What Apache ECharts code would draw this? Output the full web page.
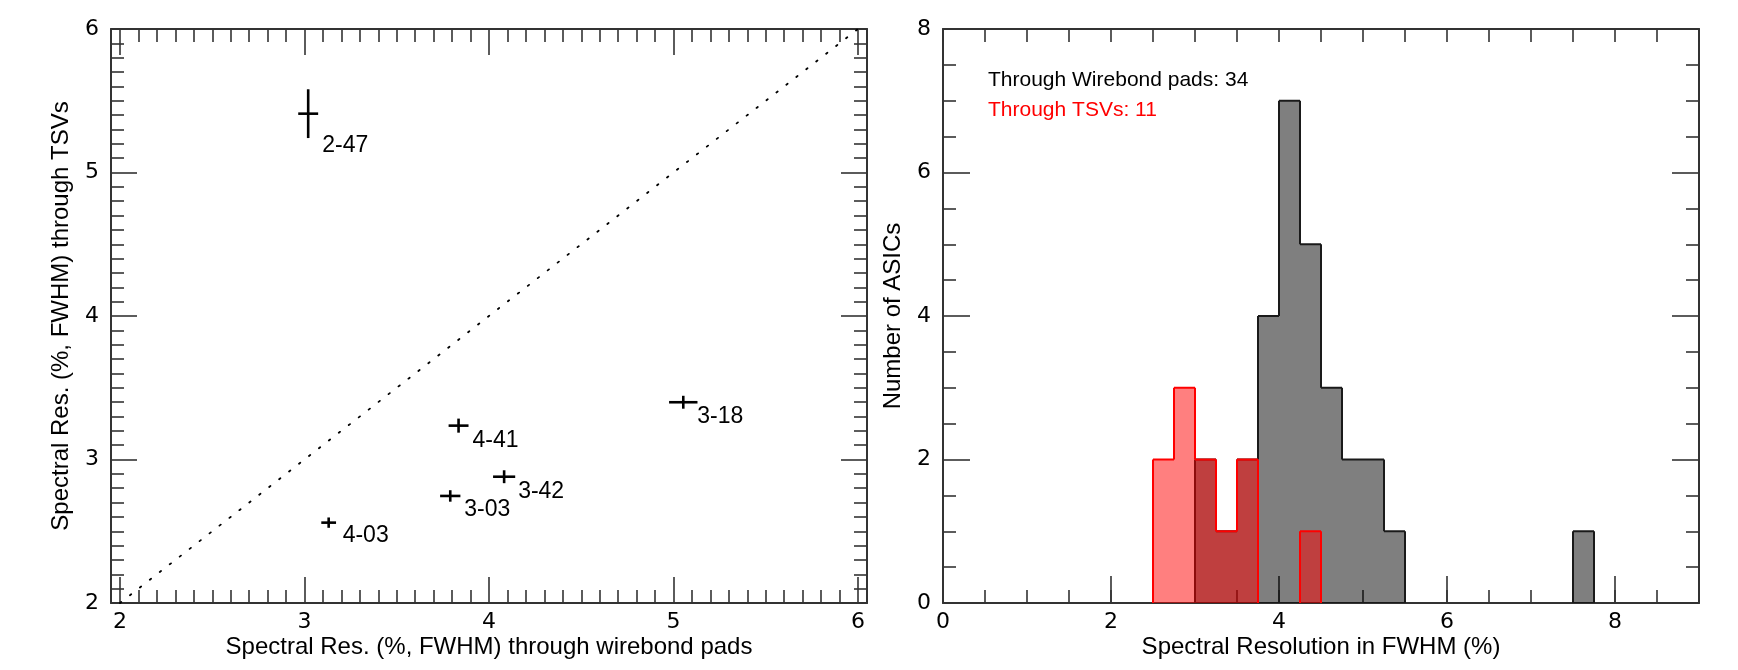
<!DOCTYPE html>
<html><head><meta charset="utf-8">
<script src="https://cdn.jsdelivr.net/npm/echarts@6/dist/echarts.min.js"></script>
<style>html,body{margin:0;padding:0;background:#fff}#c{width:1738px;height:670px}</style>
</head><body><div id="c"></div>
<script>
// ---- Left panel: per-ASIC spectral resolution ----
const asicLabels   = ['2-47', '4-41', '3-42', '3-03', '4-03', '3-18'];
const wirebondRes  = [3.02, 3.835, 4.082, 3.79, 3.131, 5.053];
const wirebondErr  = [0.054, 0.054, 0.06, 0.055, 0.04, 0.077];
const tsvRes       = [5.41, 3.236, 2.88, 2.746, 2.56, 3.399];
const tsvErr       = [0.17, 0.049, 0.045, 0.04, 0.036, 0.045];
const diagonalEnds = [2, 6];

// ---- Right panel: histograms ----
const binWidth     = 0.25;
const wireBinStart = [3.0, 3.25, 3.5, 3.75, 4.0, 4.25, 4.5, 4.75, 5.0, 5.25, 7.5];
const wireCounts   = [2, 1, 2, 4, 7, 5, 3, 2, 2, 1, 1];
const tsvBinStart  = [2.5, 2.75, 3.0, 3.25, 3.5, 4.25];
const tsvCounts    = [2, 3, 2, 1, 2, 1];
const legendWire   = 'Through Wirebond pads: 34';
const legendTsv    = 'Through TSVs: 11';

const FONT = 'Liberation Sans, Arial, Helvetica, sans-serif';
const TICKFONT = 'DejaVu Sans, Liberation Sans, sans-serif';
const AX = '#333';
const LBL = 22;

function histData(starts, counts) {
  const find = v => { for (let i = 0; i < starts.length; i++) if (Math.abs(starts[i] - v) < 1e-6) return counts[i]; return 0; };
  return starts.map((s, i) => [s, counts[i], find(s - binWidth), find(s + binWidth)]);
}
function histRender(fill, stroke) {
  return function (params, api) {
    const x0 = api.value(0), c = api.value(1), l = api.value(2), r = api.value(3);
    const x1 = x0 + binWidth;
    const pBL = api.coord([x0, 0]), pTR = api.coord([x1, c]);
    const pL = api.coord([x0, l]);
    const ch = [
      { type: 'rect', shape: { x: pBL[0], y: pTR[1], width: pTR[0] - pBL[0], height: pBL[1] - pTR[1] }, style: { fill: fill } },
      { type: 'line', shape: { x1: pBL[0], y1: pTR[1], x2: pTR[0], y2: pTR[1] }, style: { stroke: stroke, lineWidth: 2 } },
      { type: 'line', shape: { x1: pBL[0], y1: pL[1], x2: pBL[0], y2: pTR[1] }, style: { stroke: stroke, lineWidth: 2 } }
    ];
    if (r === 0) ch.push({ type: 'line', shape: { x1: pTR[0], y1: pTR[1], x2: pTR[0], y2: pBL[1] }, style: { stroke: stroke, lineWidth: 2 } });
    return { type: 'group', children: ch };
  };
}

const tickStyle = { color: AX, width: 1.6 };
const nameStyle = { fontSize: 24, fontFamily: FONT, color: '#000' };
const labelStyle = (show, margin, onlyEven) => ({
  show: show, fontSize: LBL, fontFamily: TICKFONT, color: '#000', margin: margin,
  formatter: v => (onlyEven && v % 2 !== 0) ? '' : String(v)
});

function frameX(gi, pos, name) {
  return { gridIndex: gi, type: 'value', position: pos, min: 1.95, max: 6.05,
    axisLine: { show: true, onZero: false, lineStyle: { color: AX, width: 2 } },
    axisTick: { show: false }, axisLabel: { show: false }, splitLine: { show: false },
    name: name || '', nameLocation: 'middle', nameGap: 32, nameTextStyle: nameStyle };
}
function tickX(gi, pos, labels) {
  return { gridIndex: gi, type: 'value', position: pos, min: 2, max: 6, interval: 1,
    axisLine: { show: false, onZero: false },
    axisTick: { show: true, inside: true, length: 26, lineStyle: tickStyle },
    minorTick: { show: true, splitNumber: 10, length: 13, lineStyle: tickStyle },
    axisLabel: labelStyle(labels, 8),
    splitLine: { show: false }, minorSplitLine: { show: false } };
}
function leftY(pos, labels, name) {
  return { gridIndex: 0, type: 'value', position: pos, min: 2, max: 6, interval: 1,
    axisLine: { show: true, onZero: false, lineStyle: { color: AX, width: 2 } },
    axisTick: { show: true, inside: true, length: 26, lineStyle: tickStyle },
    minorTick: { show: true, splitNumber: 10, length: 13, lineStyle: tickStyle },
    axisLabel: labelStyle(labels, 12),
    splitLine: { show: false },
    name: name || '', nameLocation: 'middle', nameGap: 38, nameTextStyle: nameStyle };
}
function rightXMinor(pos, name) {
  return { gridIndex: 2, type: 'value', position: pos, min: 0, max: 9, interval: 0.5,
    axisLine: { show: true, onZero: false, lineStyle: { color: AX, width: 2 } },
    axisTick: { show: true, inside: true, length: 13, lineStyle: tickStyle },
    axisLabel: { show: false }, splitLine: { show: false },
    name: name || '', nameLocation: 'middle', nameGap: 32, nameTextStyle: nameStyle };
}
function rightXMajor(pos, labels) {
  return { gridIndex: 2, type: 'value', position: pos, min: 0, max: 9, interval: 2,
    axisLine: { show: false, onZero: false },
    axisTick: { show: true, inside: true, length: 27, lineStyle: tickStyle },
    axisLabel: labelStyle(labels, 8, true),
    splitLine: { show: false } };
}
function rightY(pos, labels, name) {
  return { gridIndex: 2, type: 'value', position: pos, min: 0, max: 8, interval: 2,
    axisLine: { show: true, onZero: false, lineStyle: { color: AX, width: 2 } },
    axisTick: { show: true, inside: true, length: 27, lineStyle: tickStyle },
    minorTick: { show: true, splitNumber: 4, length: 13, lineStyle: tickStyle },
    axisLabel: labelStyle(labels, 12),
    splitLine: { show: false },
    name: name || '', nameLocation: 'middle', nameGap: 38, nameTextStyle: nameStyle };
}

const pointData = asicLabels.map((lab, i) => [wirebondRes[i], tsvRes[i], wirebondErr[i], tsvErr[i], i]);

const option = {
  animation: false,
  backgroundColor: '#fff',
  grid: [
    { left: 111, top: 29, width: 756, height: 574 },
    { left: 120, top: 29, width: 738, height: 574 },
    { left: 943, top: 29, width: 756, height: 574 }
  ],
  xAxis: [
    frameX(0, 'bottom', 'Spectral Res. (%, FWHM) through wirebond pads'),
    frameX(0, 'top'),
    tickX(1, 'bottom', true),
    tickX(1, 'top', false),
    rightXMinor('bottom', 'Spectral Resolution in FWHM (%)'),
    rightXMajor('bottom', true),
    rightXMinor('top')
  ],
  yAxis: [
    leftY('left', true, 'Spectral Res. (%, FWHM) through TSVs'),
    leftY('right', false),
    { gridIndex: 1, type: 'value', min: 2, max: 6, show: false, axisLine: { onZero: false } },
    rightY('left', true, 'Number of ASICs'),
    rightY('right', false)
  ],
  graphic: [
    { type: 'text', left: 988, top: 70, style: { text: legendWire, fontSize: 21, fontFamily: FONT, fill: '#000' } },
    { type: 'text', left: 988, top: 100, style: { text: legendTsv, fontSize: 21, fontFamily: FONT, fill: '#ff0000' } }
  ],
  series: [
    { type: 'line', xAxisIndex: 2, yAxisIndex: 2, data: diagonalEnds.map(v => [v, v]),
      symbol: 'none', silent: true,
      lineStyle: { color: '#000', width: 1.8, type: [1.6, 11], cap: 'round' } },
    { type: 'custom', xAxisIndex: 2, yAxisIndex: 2, data: pointData, silent: true,
      renderItem: function (params, api) {
        const x = api.value(0), y = api.value(1), ex = api.value(2), ey = api.value(3), idx = api.value(4);
        const pl = api.coord([x - ex, y]), pr = api.coord([x + ex, y]);
        const pt = api.coord([x, y + ey]), pb = api.coord([x, y - ey]);
        const c = api.coord([x, y]);
        return { type: 'group', children: [
          { type: 'line', shape: { x1: pl[0], y1: pl[1], x2: pr[0], y2: pr[1] }, style: { stroke: '#000', lineWidth: 2.6 } },
          { type: 'line', shape: { x1: pt[0], y1: pt[1], x2: pb[0], y2: pb[1] }, style: { stroke: '#000', lineWidth: 2.6 } },
          { type: 'text', style: { text: asicLabels[idx], x: c[0] + 14, y: pb[1] + 8, fill: '#000',
              fontSize: 23, fontFamily: FONT, align: 'left', verticalAlign: 'middle' } }
        ] };
      } },
    { type: 'custom', xAxisIndex: 4, yAxisIndex: 3, data: histData(wireBinStart, wireCounts), silent: true,
      renderItem: histRender('rgba(0,0,0,0.5)', '#1a1a1a') },
    { type: 'custom', xAxisIndex: 4, yAxisIndex: 3, data: histData(tsvBinStart, tsvCounts), silent: true,
      renderItem: histRender('rgba(255,0,0,0.5)', '#ff0000') }
  ]
};
const chart = echarts.init(document.getElementById('c'), null, { renderer: 'canvas' });
chart.setOption(option);
</script></body></html>
